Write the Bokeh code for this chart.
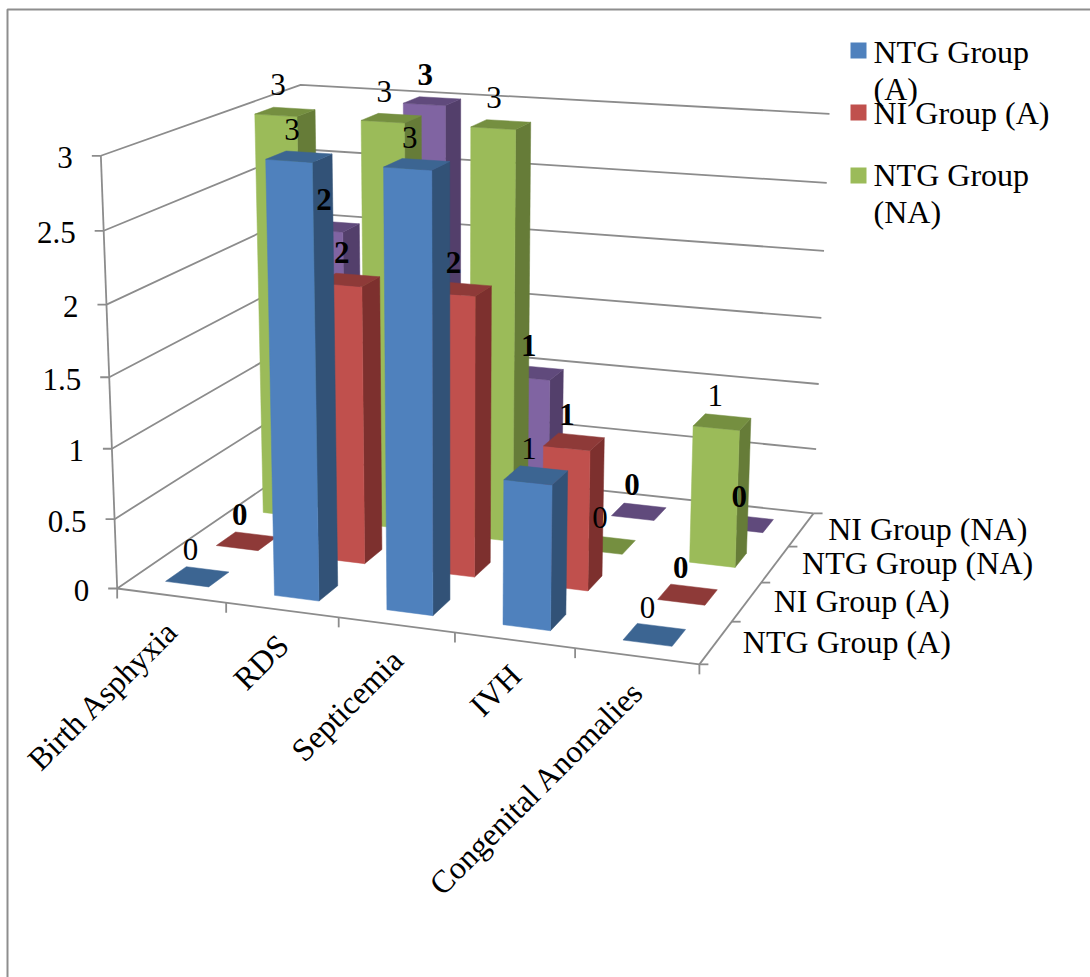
import numpy as np
from bokeh.core.properties import value
from bokeh.embed import file_html
from bokeh.models import ColumnDataSource, Range1d
from bokeh.plotting import figure
from bokeh.resources import INLINE

categories = ["Birth Asphyxia", "RDS", "Septicemia", "IVH", "Congenital Anomalies"]
series_names = ["NTG Group (A)", "NI Group (A)", "NTG Group (NA)", "NI Group (NA)"]
ntg_a = [0, 3, 3, 1, 0]
ni_a = [0, 2, 2, 1, 0]
ntg_na = [3, 3, 3, 0, 1]
ni_na = [2, 3, 1, 0, 0]
value_ticks = [0, 0.5, 1, 1.5, 2, 2.5, 3]
value_tick_labels = ["0", "0.5", "1", "1.5", "2", "2.5", "3"]
legend_lines = [["NTG Group", "(A)"], ["NI Group (A)"], ["NTG Group", "(NA)"]]

series_values = [ntg_a, ni_a, ntg_na, ni_na]
front_colors = ["#4F81BD", "#C0504D", "#9BBB59", "#8064A2"]
side_colors = ["#325277", "#7D302E", "#667C38", "#533F6B"]
top_colors = ["#3C6592", "#8E3A38", "#758F40", "#604A7C"]
bold_series = [False, True, False, True]

WIDTH, HEIGHT = 1090, 977
FONT = value("Liberation Serif")
GRID = "#8C8C8C"
BAR_GAP = 0.3

# Camera calibration: (category, series, value) -> screen position.
camera_points = [
    ((0, 0, 0), (116.7, 587.3)), ((5, 0, 0), (699.3, 664)), ((5, 4, 0), (812.3, 513.3)),
    ((0, 0, 3), (100.7, 155)), ((0, 4, 3), (300, 84.3)), ((5, 4, 3), (829, 114)),
    ((0, 0, 1), (111.7, 447)), ((0, 0, 0.5), (113, 518)), ((5, 4, 2.5), (826.7, 182.3)),
    ((5, 4, 2), (823.7, 250)), ((1, 0, 0), (225.7, 603)), ((2, 0, 0), (338, 618)),
    ((1.3, .3, 0), (274, 595)), ((1.7, .3, 0), (318.3, 600)), ((1.7, .7, 0), (337.3, 585.7)),
    ((1.3, .3, 3), (266, 159)), ((1.7, .3, 3), (312.7, 162)), ((1.7, .7, 3), (331.7, 154)),
    ((1.3, .7, 3), (283, 150.7)),
    ((4.3, 2.3, 1), (693.3, 424.3)), ((4.7, 2.3, 1), (739, 429.3)), ((4.7, 2.7, 1), (750.3, 417.7)),
    ((4.3, 2.7, 1), (705, 413.3)), ((4.3, 2.3, 0), (690, 561.7)), ((4.7, 2.3, 0), (734.3, 566)),
    ((4.7, 2.7, 0), (745.7, 553.3)),
    ((4.3, .3, 0), (623.3, 639.3)), ((4.7, .3, 0), (670.7, 645.7)), ((4.7, .7, 0), (685, 629)),
    ((4.3, .7, 0), (635.7, 623.3)),
    ((.3, .3, 0), (166, 581)), ((.7, .3, 0), (208, 586)), ((.7, .7, 0), (228, 572)), ((.3, .7, 0), (187, 567)),
]


def fit_camera(points):
    rows, rhs = [], []
    for (X, Y, Z), (u, v) in points:
        rows.append([X, Y, Z, 1, 0, 0, 0, 0, -u * X, -u * Y, -u * Z])
        rhs.append(u)
        rows.append([0, 0, 0, 0, X, Y, Z, 1, -v * X, -v * Y, -v * Z])
        rhs.append(v)
    m = np.linalg.lstsq(np.array(rows), np.array(rhs), rcond=None)[0]
    return np.append(m, 1.0).reshape(3, 4)


CAMERA = fit_camera(camera_points)


def project(X, Y, Z):
    p = CAMERA @ np.array([X, Y, Z, 1.0])
    return float(p[0] / p[2]), float(p[1] / p[2])


def polyline(*corners):
    pts = [project(*c) for c in corners]
    return [a for a, _ in pts], [b for _, b in pts]


p = figure(width=WIDTH, height=HEIGHT, output_backend="svg", toolbar_location=None,
           x_range=Range1d(0, WIDTH), y_range=Range1d(HEIGHT, 0), min_border=0,
           background_fill_color="white", border_fill_color="white", outline_line_color=None)
p.xaxis.visible = False
p.yaxis.visible = False
p.xgrid.visible = False
p.ygrid.visible = False

# Chart-area frame
p.line([7, 7, WIDTH], [HEIGHT, 9, 9], line_color="#8E8E8E", line_width=2)

# Walls, floor edges and tick marks
nx, ny = len(categories), len(series_names)
xs, ys = [], []
for z in value_ticks:
    a, b = polyline((0, 0, z), (0, ny, z), (nx, ny, z))
    xs.append(a); ys.append(b)
    x0, y0 = project(0, 0, z)
    xs.append([x0, x0 - 9]); ys.append([y0, y0])
for c in [((0, 0, 0), (0, 0, 3)), ((0, 0, 0), (nx, 0, 0)), ((nx, 0, 0), (nx, ny, 0))]:
    a, b = polyline(*c)
    xs.append(a); ys.append(b)
for i in range(nx + 1):
    x0, y0 = project(i, 0, 0)
    xs.append([x0, x0]); ys.append([y0, y0 + 10])
for j in range(ny + 1):
    x0, y0 = project(nx, j, 0)
    xs.append([x0, x0 + 9]); ys.append([y0, y0])
p.multi_line(xs, ys, line_color=GRID, line_width=1.8)

# Bars, painted from the back row forward and left to right within a row
patch_x, patch_y, patch_c = [], [], []
for s in range(ny - 1, -1, -1):
    for c in range(nx):
        v = series_values[s][c]
        x0, x1 = c + BAR_GAP, c + 1 - BAR_GAP
        y0, y1 = s + BAR_GAP, s + 1 - BAR_GAP
        faces = []
        if v > 0:
            faces.append(((x1, y0, 0), (x1, y1, 0), (x1, y1, v), (x1, y0, v), side_colors[s]))
            faces.append(((x0, y0, 0), (x1, y0, 0), (x1, y0, v), (x0, y0, v), front_colors[s]))
        faces.append(((x0, y0, v), (x1, y0, v), (x1, y1, v), (x0, y1, v), top_colors[s]))
        for f in faces:
            a, b = polyline(*f[:4])
            patch_x.append(a); patch_y.append(b); patch_c.append(f[4])
p.patches(xs="x", ys="y", fill_color="c", line_color="c", line_width=0.5,
          source=ColumnDataSource(dict(x=patch_x, y=patch_y, c=patch_c)))

# Data labels
for bold in (False, True):
    lx, ly, lt = [], [], []
    for s in range(ny):
        if bold_series[s] != bold:
            continue
        for c in range(nx):
            v = series_values[s][c]
            x0, y0 = project(c + 0.5, s + 0.5, v)
            lx.append(x0 - 7); ly.append(y0 - 27); lt.append(str(v))
    p.text(lx, ly, text=lt, text_font=FONT, text_font_size="31px", text_align="center",
           text_baseline="middle", text_color="black",
           text_font_style="bold" if bold else "normal")

# Value axis labels
vx, vy = [], []
for z in value_ticks:
    x0, y0 = project(0, 0, z)
    vx.append(x0 - 28); vy.append(y0 + 2)
p.text(vx, vy, text=value_tick_labels, text_font=FONT, text_font_size="31px", text_align="right",
       text_baseline="middle", text_color="black")

# Category labels
cx, cy = [], []
for c in range(nx):
    x0, y0 = project(c + 0.5, 0, 0)
    cx.append(x0 + 1); cy.append(y0 + 30)
p.text(cx, cy, text=categories, text_font=FONT, text_font_size="32px", text_align="right",
       text_baseline="middle", text_color="black", angle=np.pi / 4)

# Series axis labels
sx, sy = [], []
for s in range(ny):
    x0, y0 = project(nx, s + 0.5, 0)
    sx.append(x0 + 27); sy.append(y0 - 1)
p.text(sx, sy, text=series_names, text_font=FONT, text_font_size="32px", text_align="left",
       text_baseline="middle", text_color="black")

# Legend
legend_y = [51, 112, 174]
p.rect([858] * 3, [50, 112, 175], width=16, height=16, fill_color=front_colors[:3], line_color=None)
tx, ty, tt = [], [], []
for y, lines in zip(legend_y, legend_lines):
    for i, line in enumerate(lines):
        tx.append(873); ty.append(y + i * 37); tt.append(line)
p.text(tx, ty, text=tt, text_font=FONT, text_font_size="32px", text_align="left",
       text_baseline="middle", text_color="black")

open("out.html", "w").write(file_html(p, INLINE))
